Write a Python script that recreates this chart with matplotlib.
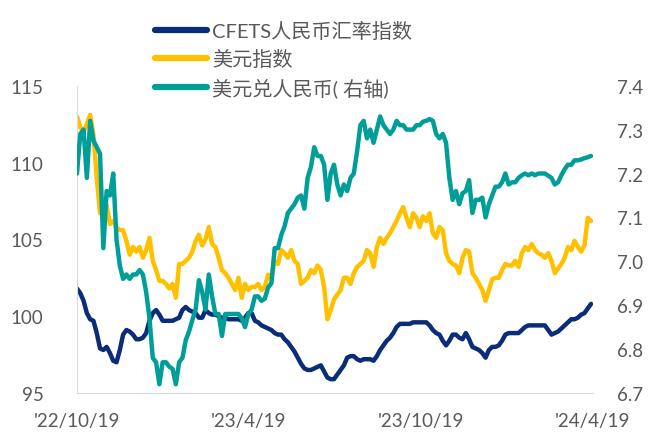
import numpy as np
import pandas as pd
import matplotlib
matplotlib.use('Agg')
from matplotlib import pyplot as plt

plt.rcParams['font.family'] = ['Lato', 'Noto Sans CJK SC', 'DejaVu Sans']

# readings every 3.5 days, 2022-10-19 .. 2024-04-17
dates = pd.date_range('2022-10-19', periods=157, freq='84h')

cfets = [101.8, 101.5, 101.0, 100.2, 99.8, 99.7, 98.9, 97.9, 97.8, 98.0,
         97.6, 97.1, 97.0, 97.8, 98.8, 99.1, 99.0, 98.8, 98.5, 98.5,
         98.6, 98.9, 99.7, 100.2, 100.4, 100.1, 99.7, 99.7, 99.7, 99.7,
         99.8, 99.9, 100.4, 100.6, 100.4, 100.3, 100.2, 99.9, 99.9, 100.4,
         100.2, 100.1, 100.1, 100.0, 99.9, 99.9, 99.8, 99.8, 99.8, 99.8,
         99.7, 99.9, 100.2, 100.2, 99.7, 99.6, 99.4, 99.3, 99.2, 99.1,
         98.9, 98.8, 98.8, 98.5, 98.3, 98.0, 97.7, 97.3, 96.9, 96.6,
         96.5, 96.5, 96.6, 96.7, 96.8, 96.4, 96.0, 95.9, 95.9, 96.2,
         96.5, 96.8, 97.3, 97.4, 97.4, 97.2, 97.1, 97.2, 97.2, 97.2,
         97.1, 97.4, 97.8, 98.1, 98.4, 98.6, 98.9, 99.3, 99.5, 99.5,
         99.5, 99.5, 99.6, 99.6, 99.6, 99.6, 99.6, 99.4, 99.1, 98.9,
         98.8, 98.4, 98.1, 98.4, 98.8, 98.8, 98.6, 98.5, 98.9, 98.5,
         98.0, 97.9, 97.8, 97.6, 97.3, 97.8, 98.0, 98.0, 98.1, 98.4,
         98.8, 98.9, 98.9, 98.9, 98.9, 99.1, 99.3, 99.4, 99.4, 99.4,
         99.4, 99.4, 99.4, 99.1, 98.8, 98.9, 99.0, 99.2, 99.4, 99.6,
         99.8, 99.8, 99.9, 100.1, 100.2, 100.5, 100.8]

usd_index = [113.0, 112.3, 112.0, 112.5, 113.1, 111.8, 109.0, 106.7, 107.0, 107.2,
             106.0, 106.2, 105.8, 105.6, 105.6, 104.9, 104.0, 104.5, 104.2, 104.5,
             103.8, 104.3, 105.1, 103.6, 103.0, 102.3, 102.3, 102.1, 101.8, 102.1,
             101.2, 103.4, 103.4, 103.6, 103.8, 104.2, 104.9, 105.3, 104.6, 105.0,
             105.8, 104.7, 104.5, 103.8, 103.0, 102.8, 102.5, 102.1, 101.7, 102.5,
             101.2, 102.1, 101.7, 101.9, 101.9, 102.1, 101.7, 101.9, 102.7, 102.5,
             103.6, 103.4, 104.3, 104.1, 103.8, 104.3, 103.6, 103.4, 102.1, 102.3,
             102.5, 103.0, 102.8, 103.3, 103.0, 101.9, 99.8, 100.4, 101.1, 101.4,
             101.7, 102.5, 102.5, 102.1, 102.8, 103.2, 103.4, 103.6, 104.3, 104.1,
             103.2, 104.5, 105.1, 104.7, 105.1, 105.4, 105.8, 106.2, 106.7, 107.1,
             106.4, 105.8, 106.7, 106.4, 105.8, 106.5, 106.2, 106.7, 105.4, 105.1,
             105.8, 105.6, 104.1, 103.6, 103.4, 103.3, 102.8, 103.8, 104.3, 104.2,
             102.8, 102.5, 102.1, 101.7, 101.0, 101.7, 102.4, 102.5, 102.5, 103.0,
             103.4, 103.3, 103.3, 103.6, 103.2, 104.1, 104.5, 104.3, 104.7, 104.3,
             104.1, 104.0, 103.8, 104.1, 103.6, 102.8, 103.1, 103.4, 103.8, 104.5,
             104.3, 104.9, 104.5, 104.2, 104.6, 106.4, 106.2]

usdcny = [7.20, 7.29, 7.30, 7.19, 7.32, 7.275, 7.26, 7.245, 7.03, 7.16,
          7.15, 7.20, 7.05, 6.99, 6.96, 6.97, 6.96, 6.97, 6.97, 6.98,
          6.97, 6.93, 6.87, 6.78, 6.77, 6.72, 6.77, 6.77, 6.76, 6.755,
          6.72, 6.77, 6.78, 6.82, 6.84, 6.866, 6.89, 6.957, 6.93, 6.89,
          6.97, 6.92, 6.88, 6.88, 6.83, 6.88, 6.88, 6.88, 6.88, 6.88,
          6.87, 6.85, 6.88, 6.89, 6.92, 6.92, 6.91, 6.915, 6.94, 6.95,
          7.03, 7.03, 7.06, 7.08, 7.11, 7.12, 7.13, 7.145, 7.15, 7.12,
          7.19, 7.215, 7.26, 7.24, 7.24, 7.22, 7.14, 7.20, 7.22, 7.175,
          7.15, 7.175, 7.16, 7.19, 7.20, 7.25, 7.31, 7.32, 7.28, 7.30,
          7.27, 7.30, 7.33, 7.31, 7.30, 7.29, 7.30, 7.32, 7.31, 7.31,
          7.30, 7.30, 7.30, 7.31, 7.31, 7.318, 7.32, 7.324, 7.32, 7.29,
          7.28, 7.29, 7.27, 7.19, 7.14, 7.16, 7.13, 7.155, 7.16, 7.185,
          7.11, 7.14, 7.14, 7.145, 7.10, 7.13, 7.15, 7.17, 7.17, 7.18,
          7.20, 7.175, 7.18, 7.18, 7.19, 7.196, 7.20, 7.196, 7.20, 7.196,
          7.20, 7.20, 7.20, 7.195, 7.19, 7.175, 7.18, 7.196, 7.21, 7.22,
          7.22, 7.23, 7.23, 7.232, 7.235, 7.237, 7.24]

tick_dates = ['2022-10-19', '2023-04-19', '2023-10-19', '2024-04-19']
tick_labels = ["'22/10/19", "'23/4/19", "'23/10/19", "'24/4/19"]

navy = '#0b2c78'
gold = '#ffc000'
teal = '#009e99'
gray = '#595959'

fig = plt.figure(figsize=(6.49, 4.39), dpi=100)
ax = fig.add_axes([0.1186, 0.1025, 0.795, 0.700])
ax2 = ax.twinx()

l1, = ax.plot(dates, cfets, color=navy, lw=3.2, solid_joinstyle='round',
              solid_capstyle='round', label='CFETS人民币汇率指数')
l2, = ax.plot(dates, usd_index, color=gold, lw=3.2, solid_joinstyle='round',
              solid_capstyle='round', label='美元指数')
l3, = ax2.plot(dates, usdcny, color=teal, lw=3.2, solid_joinstyle='round',
               solid_capstyle='round', label='美元兑人民币( 右轴)')

ax.set_ylim(95, 115)
ax.set_yticks([95, 100, 105, 110, 115])
ax2.set_ylim(6.7, 7.4)
ax2.set_yticks([6.7, 6.8, 6.9, 7.0, 7.1, 7.2, 7.3, 7.4])
ax2.set_yticklabels(['6.7', '6.8', '6.9', '7.0', '7.1', '7.2', '7.3', '7.4'])
ax.set_xlim(pd.Timestamp('2022-10-19'), pd.Timestamp('2024-04-19'))
ax.set_xticks(pd.to_datetime(tick_dates))
ax.set_xticklabels(tick_labels)

for a in (ax, ax2):
    for s in a.spines.values():
        s.set_visible(False)
    a.tick_params(length=0, labelsize=13.5, colors=gray)
ax.spines['left'].set_visible(True)
ax.spines['bottom'].set_visible(True)
ax.spines['left'].set_color('#d9d9d9')
ax.spines['bottom'].set_color('#d9d9d9')
ax.tick_params(axis='y', pad=24)
ax.tick_params(axis='x', pad=14)
ax2.tick_params(axis='y', pad=17)

leg = fig.legend(handles=[l1, l2, l3], loc='upper left',
                 bbox_to_anchor=(0.226, 0.968), frameon=False,
                 fontsize=14.5, handlelength=2.6, handletextpad=0.25,
                 labelspacing=0.45, borderaxespad=0)
for t in leg.get_texts():
    t.set_color(gray)
for h in leg.get_lines():
    h.set_linewidth(4.5)

fig.savefig('out.png', dpi=100)
